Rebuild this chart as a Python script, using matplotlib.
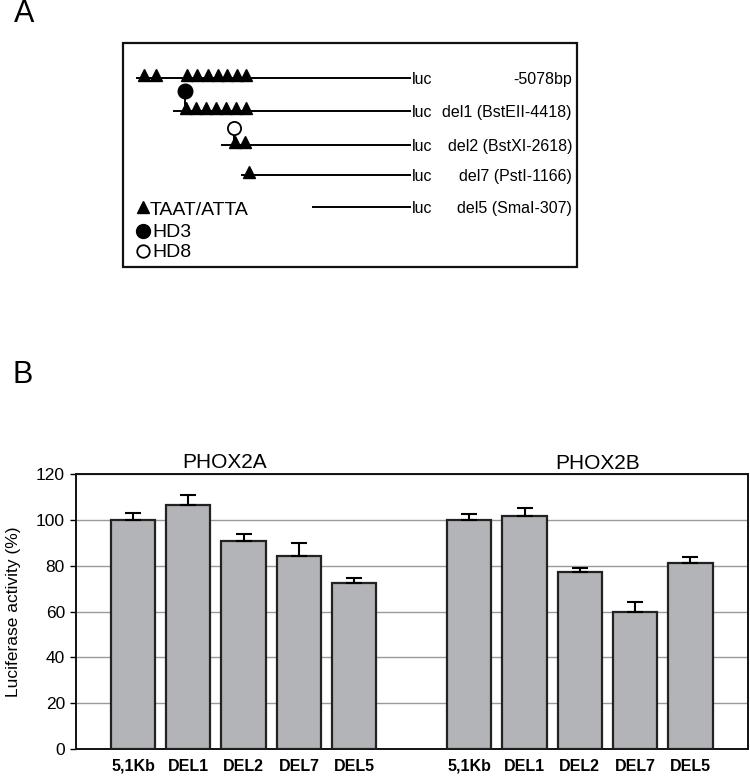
import numpy as np
import matplotlib
matplotlib.use("Agg")
import matplotlib.pyplot as plt

plt.rcParams['font.family'] = ['Liberation Sans', 'DejaVu Sans']

# --- Panel A: schematic of promoter constructs (schematic units = pixels) ---
row_labels = ['-5078bp', 'del1 (BstEII-4418)', 'del2 (BstXI-2618)',
              'del7 (PstI-1166)', 'del5 (SmaI-307)']
row_y = [78, 111, 145, 175, 207]
line_start = [137, 174, 222, 242, 313]
luc_x = 410
taat_sites = [
    [144, 156, 187, 197, 207.5, 217.5, 227, 236.5, 246],
    [186, 196, 206, 216, 226, 236, 246],
    [234.5, 244.5],
    [248.5],
    [],
]
hd3_site = (185, 1)   # (x, row index)
hd8_site = (233.5, 2)
legend_items = ['TAAT/ATTA', 'HD3', 'HD8']
legend_y = [209, 231, 251]

# --- Panel B: luciferase activity ---
constructs = ['5,1Kb', 'DEL1', 'DEL2', 'DEL7', 'DEL5']
phox2a = [100, 106.4, 90.6, 84.2, 72.4]
phox2a_err = [3.1, 4.6, 3.4, 5.5, 2.3]
phox2b = [100, 101.8, 77.4, 59.9, 81.3]
phox2b_err = [2.5, 3.2, 1.7, 4.3, 2.5]

W, H = 750, 778
fig = plt.figure(figsize=(W / 100, H / 100), dpi=100)

# schematic drawn in a full-figure axes with pixel-like coordinates
axA = fig.add_axes([0, 0, 1, 1])
axA.set_xlim(0, W)
axA.set_ylim(H, 0)
axA.axis('off')

axA.add_patch(plt.Rectangle((123, 43), 454, 224, fill=False, lw=1.6, ec='#111111'))

for i, y in enumerate(row_y):
    axA.plot([line_start[i], luc_x], [y, y], color='black', lw=1.4)
    axA.text(luc_x + 2, y + 1, 'luc', fontsize=11.5, va='center', ha='left')
    axA.text(572, y + 1, row_labels[i], fontsize=11.5, va='center', ha='right')
    if taat_sites[i]:
        axA.plot(taat_sites[i], [y - 3] * len(taat_sites[i]), ls='none', marker='^',
                 ms=9, color='black')

# HD3 (filled) and HD8 (open) on sticks above line
x3, r3 = hd3_site
axA.plot([x3, x3], [row_y[r3] - 18, row_y[r3] - 4], color='black', lw=1.4)
axA.plot([x3], [row_y[r3] - 20], marker='o', ms=10.5, color='black')
x8, r8 = hd8_site
axA.plot([x8, x8], [row_y[r8] - 12, row_y[r8] - 4], color='black', lw=1.4)
axA.plot([x8], [row_y[r8] - 17], marker='o', ms=9.5, mfc='white', mec='black', mew=1.3)

# legend
legend_markers = [dict(marker='^', ms=9, color='black'),
                  dict(marker='o', ms=10, color='black'),
                  dict(marker='o', ms=9, mfc='white', mec='black', mew=1.3)]
for lab, ly, mk in zip(legend_items, legend_y, legend_markers):
    axA.plot([143], [ly - (2 if lab == 'TAAT/ATTA' else 0)], ls='none', **mk)
    axA.text(150 if lab == 'TAAT/ATTA' else 152, ly + 1, lab, fontsize=14,
             va='center', ha='left')

fig.text(24 / W, 1 - 14 / H, 'A', fontsize=22, ha='center', va='center')
fig.text(23 / W, 1 - 375 / H, 'B', fontsize=22, ha='center', va='center')

# bar chart axes
left, right, top, bottom = 76, 748, 474, 749
axB = fig.add_axes([left / W, 1 - bottom / H, (right - left) / W, (bottom - top) / H])

n = len(constructs)
gap = 6.08
xa = np.arange(n)
xb = np.arange(n) + gap
bar_kw = dict(width=0.8, color='#b3b4b8', edgecolor='#222222', linewidth=1.6, zorder=3)
err_kw = dict(elinewidth=1.5, capthick=1.5, capsize=6, ecolor='black')

axB.bar(xa, phox2a, yerr=[np.zeros(n), phox2a_err], error_kw=err_kw, **bar_kw)
axB.bar(xb, phox2b, yerr=[np.zeros(n), phox2b_err], error_kw=err_kw, **bar_kw)

axB.set_xlim(-1.03, 11.12)
axB.set_ylim(0, 120)
axB.set_yticks(np.arange(0, 121, 20))
axB.tick_params(axis='y', labelsize=12.5, length=4, width=1, direction='out', pad=4)
axB.set_xticks(np.concatenate([xa, xb]))
axB.set_xticklabels(constructs * 2, fontsize=11.5, fontweight='bold')
axB.tick_params(axis='x', length=0, pad=7)
axB.yaxis.grid(True, color='#9a9a9a', lw=1)
axB.set_axisbelow(True)
for s in axB.spines.values():
    s.set_linewidth(1.4)
    s.set_color('#111111')
axB.set_ylabel('Luciferase activity (%)', fontsize=12.5, labelpad=11)

axB.text(1.65, 125, 'PHOX2A', fontsize=15, ha='center', va='center', clip_on=False)
axB.text(8.4, 124.5, 'PHOX2B', fontsize=15, ha='center', va='center', clip_on=False)

fig.savefig('out.png', dpi=100)
